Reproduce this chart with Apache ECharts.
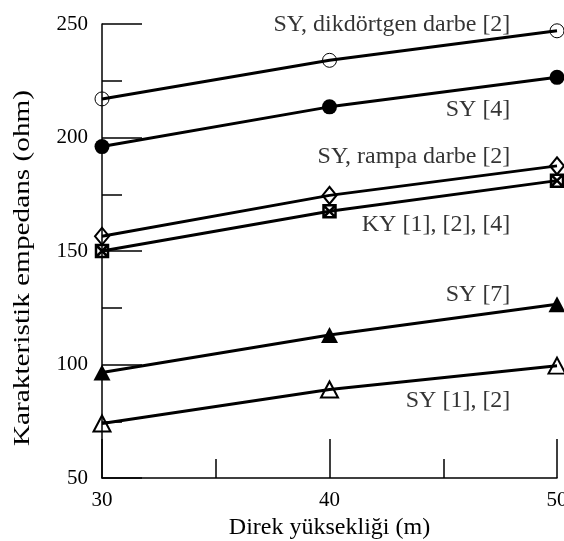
<!DOCTYPE html>
<html><head><meta charset="utf-8">
<script src="https://cdn.jsdelivr.net/npm/echarts@6/dist/echarts.min.js"></script>
<style>html,body{margin:0;padding:0;background:#fff;overflow:hidden}#c{width:564px;height:541px}</style>
</head><body><div id="c"></div>
<script>
var heights = [30, 40, 50];
var syDikdortgen = [217, 234, 247];
var sy4 = [196, 213.5, 226.5];
var syRampa = [156.5, 174.5, 187.5];
var ky = [150, 167.5, 181];
var sy7 = [96.5, 113, 126.5];
var sy12 = [74, 89, 99.5];
var labelTexts = ['SY, dikdörtgen darbe [2]', 'SY [4]', 'SY, rampa darbe [2]', 'KY [1], [2], [4]', 'SY [7]', 'SY [1], [2]'];
var labelX = [47.95, 47.95, 47.95, 47.95, 47.95, 47.95];
var labelY = [249.5, 212.3, 191.6, 161.6, 130.8, 84];

var FONT = '"Liberation Serif", "Times New Roman", serif';
function pts(v){ return heights.map(function(h,i){ return [h, v[i]]; }); }
var open = 'rgba(0,0,0,0)';
var squareX = 'path://M0,0 L10,0 L10,10 L0,10 Z M0,0 L10,10 M10,0 L0,10';

function line(name, v, symbol, size, fill, bw){
  return {
    name: name, type: 'line', data: pts(v), symbol: symbol, symbolSize: size,
    showSymbol: true, animation: false,
    lineStyle: {color: '#000', width: 3},
    itemStyle: {color: fill, borderColor: '#000', borderWidth: bw},
    z: 3
  };
}

var chart = echarts.init(document.getElementById('c'));
var option = {
  animation: false,
  backgroundColor: '#fff',
  grid: {left: 102, right: 7, top: 24, bottom: 63, containLabel: false, outerBoundsMode: 'none'},
  xAxis: {
    type: 'value', min: 30, max: 50, interval: 10,
    name: 'Direk yüksekliği (m)', nameLocation: 'middle', nameGap: 31,
    nameTextStyle: {fontFamily: FONT, fontSize: 24, color: '#000'},
    axisLine: {show: true, lineStyle: {color: '#000', width: 1.5}},
    axisTick: {show: true, inside: true, length: 39, lineStyle: {color: '#000', width: 1.5}},
    minorTick: {show: true, splitNumber: 2, length: 19, lineStyle: {color: '#000', width: 1.5}},
    axisLabel: {fontFamily: FONT, fontSize: 21, color: '#000', margin: 12, showMaxLabel: true},
    splitLine: {show: false}
  },
  yAxis: {
    type: 'value', min: 50, max: 250, interval: 50,
    axisLine: {show: true, lineStyle: {color: '#000', width: 1.5}},
    axisTick: {show: true, inside: true, length: 40, lineStyle: {color: '#000', width: 1.5}},
    minorTick: {show: true, splitNumber: 2, length: 20, lineStyle: {color: '#000', width: 1.5}},
    axisLabel: {fontFamily: FONT, fontSize: 21, color: '#000', margin: 14},
    splitLine: {show: false}
  },
  graphic: [{
    type: 'text', x: 23, y: 268, rotation: Math.PI/2, scaleX: 1.22,
    style: {text: 'Karakteristik empedans (ohm)', font: '24px ' + FONT, fill: '#000', align: 'center', verticalAlign: 'middle'}
  }],
  series: [
    line('SY, dikdörtgen darbe [2]', syDikdortgen, 'circle', 14, open, 1),
    line('SY [4]', sy4, 'circle', 15, '#000', 0),
    line('SY, rampa darbe [2]', syRampa, 'diamond', [14, 17], open, 2),
    line('KY [1], [2], [4]', ky, squareX, 12, open, 2.5),
    line('SY [7]', sy7, 'triangle', [17, 16], '#000', 0),
    line('SY [1], [2]', sy12, 'triangle', [17, 16], open, 2),
    {
      type: 'scatter', symbolSize: 0, animation: false, silent: true,
      data: labelTexts.map(function(t,i){ return {value: [labelX[i], labelY[i]], name: t}; }),
      label: {show: true, position: 'left', distance: 0, formatter: '{b}',
        fontFamily: FONT, fontSize: 24, color: '#000', verticalAlign: 'middle'},
      z: 5
    }
  ]
};
chart.setOption(option);
</script></body></html>
